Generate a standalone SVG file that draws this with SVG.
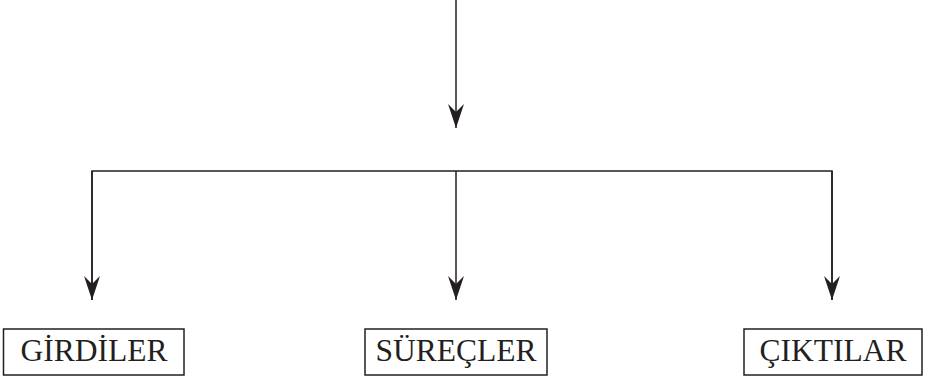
<svg xmlns="http://www.w3.org/2000/svg" width="928" height="381" viewBox="0 0 928 381">
<defs>
<style>
.box{fill:#fff;stroke:#231f20;stroke-width:1.5}
.lbl{font-family:"Liberation Serif","Times New Roman",serif;font-size:31.5px;fill:#231f20;text-anchor:middle}
.ln{fill:none;stroke:#231f20;stroke-width:1.5}
</style>
<marker id="ah" markerUnits="userSpaceOnUse" markerWidth="28" markerHeight="18" viewBox="-26 -9 28 18" refX="0" refY="0" orient="auto">
<path d="M0,0 L-24,-8 L-16,0 L-24,8 Z" fill="#231f20"/>
</marker>
</defs>
<g id="connectors">
<line class="ln" x1="456" y1="0" x2="456" y2="128" marker-end="url(#ah)"/>
<polyline class="ln" points="92,300 92,171 832,171 832,300"/>
<line class="ln" x1="92" y1="171" x2="92" y2="300" marker-end="url(#ah)"/>
<line class="ln" x1="456" y1="171" x2="456" y2="300" marker-end="url(#ah)"/>
<line class="ln" x1="832" y1="171" x2="832" y2="300" marker-end="url(#ah)"/>
</g>
<g id="girdiler">
<rect class="box" x="3.5" y="329" width="180.5" height="46"/>
<text class="lbl" x="94" y="361">GİRDİLER</text>
</g>
<g id="surecler">
<rect class="box" x="365" y="329" width="182" height="46"/>
<text class="lbl" x="456" y="361">SÜREÇLER</text>
</g>
<g id="ciktilar">
<rect class="box" x="744" y="329" width="178" height="46"/>
<text class="lbl" x="833" y="361">ÇIKTILAR</text>
</g>
</svg>
